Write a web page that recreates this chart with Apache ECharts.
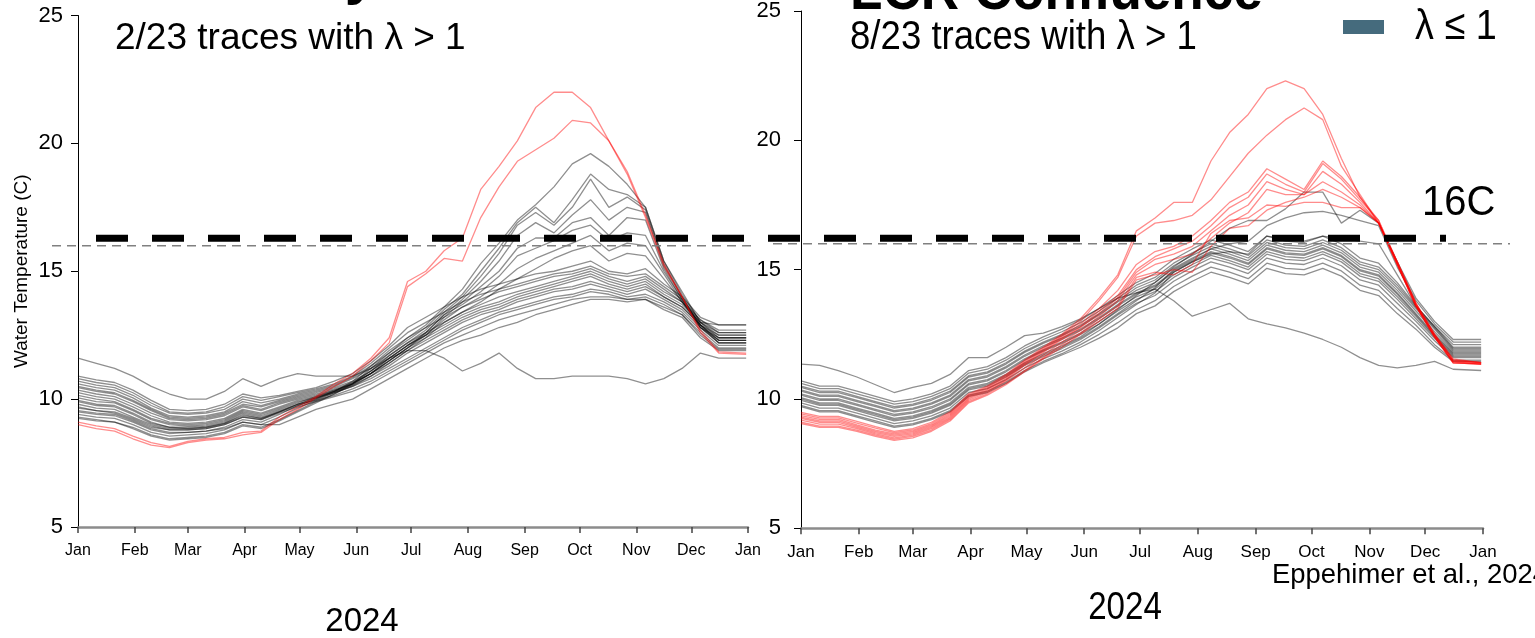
<!DOCTYPE html>
<html>
<head>
<meta charset="utf-8">
<script src="https://cdn.jsdelivr.net/npm/echarts@6/dist/echarts.min.js"></script>
<style>
  html, body { margin: 0; padding: 0; background: #ffffff; }
  #chart { width: 1535px; height: 638px; }
</style>
</head>
<body>
<div id="chart"></div>
<script>
// Day-of-year (2024) at which every temperature trace is sampled
const sampleDays = [0,10,20,30,40,50,60,70,80,90,100,110,120,130,140,150,160,170,180,190,
  200,210,220,230,240,250,260,270,280,290,300,310,320,330,340,350,365];

// Month boundaries (day of year) and their labels
const monthStarts = [0,31,60,91,121,152,182,213,244,274,305,335,366];
const monthLabels = ['Jan','Feb','Mar','Apr','May','Jun','Jul','Aug','Sep','Oct','Nov','Dec','Jan'];

// Temperature axis ticks (°C) and the 16 °C threshold
const tempTicks = [5, 10, 15, 20, 25];
const thresholdC = 16;

// Lees Ferry traces with λ ≤ 1 (gray)
const leesGray = [
  [9.5,9.4,9.35,9.1,8.8,8.65,8.7,8.75,8.9,9.2, 9.1,9.4,9.75,10.0,10.3,10.7,11.3,11.9,12.4,12.9, 13.6,14.3,15.3,16.1,17.0,17.6,18.3,19.2,19.6,19.1, 18.4,17.5,15.4,14.2,13.0,12.9,12.9],
  [9.4,9.3,9.25,9.0,8.7,8.55,8.6,8.65,8.8,9.1, 9.0,9.3,9.65,9.95,10.25,10.6,11.2,11.8,12.3,12.8, 13.5,14.1,15.0,15.9,16.9,17.5,16.9,17.8,18.8,18.2, 18.0,17.5,15.4,14.1,13.0,12.6,12.6],
  [9.65,9.55,9.45,9.2,8.9,8.8,8.8,8.85,9.0,9.3, 9.2,9.5,9.8,10.05,10.3,10.65,11.1,11.7,12.2,12.7, 13.4,14.0,14.8,15.7,16.8,17.3,16.8,17.5,18.6,17.5, 17.9,17.4,15.3,14.0,12.9,12.5,12.5],
  [9.3,9.2,9.1,8.9,8.6,8.45,8.5,8.55,8.7,9.0, 8.9,9.2,9.55,9.9,10.2,10.55,11.0,11.6,12.1,12.6, 13.3,13.9,14.6,15.4,16.4,16.9,16.5,17.2,17.8,17.0, 17.5,17.3,15.2,14.0,12.8,12.4,12.4],
  [9.8,9.65,9.6,9.3,9.0,8.85,8.85,8.9,9.05,9.35, 9.25,9.5,9.8,10.05,10.3,10.6,11.0,11.5,12.0,12.5, 13.2,13.8,14.4,15.0,15.9,16.3,16.3,16.9,17.1,16.4, 17.1,17.0,15.1,13.9,12.8,12.3,12.3],
  [10.05,9.9,9.85,9.55,9.2,9.0,8.95,9.0,9.15,9.5, 9.35,9.6,9.85,10.1,10.35,10.6,11.0,11.5,12.0,12.6, 13.3,13.7,14.2,14.8,15.6,15.9,16.2,16.6,16.8,16.2, 16.5,16.4,15.0,13.9,12.9,12.3,12.3],
  [9.25,9.15,9.1,8.85,8.55,8.4,8.45,8.5,8.65,8.95, 8.85,9.15,9.5,9.85,10.2,10.6,11.1,11.6,12.1,12.5, 13.1,13.6,14.0,14.5,15.1,15.5,15.8,16.1,16.4,15.8, 16.1,16.0,14.9,13.8,12.9,12.2,12.2],
  [9.9,9.75,9.7,9.4,9.05,8.9,8.85,8.9,9.05,9.4, 9.25,9.5,9.75,10.0,10.25,10.5,10.9,11.4,11.9,12.4, 13.0,13.4,13.8,14.3,14.7,15.1,15.5,15.8,16.0,15.4, 15.7,15.6,14.7,13.8,12.8,12.2,12.2],
  [10.9,10.75,10.65,10.35,9.95,9.6,9.55,9.6,9.8,10.2, 10.05,10.15,10.3,10.45,10.7,11.0,11.5,12.1,12.8,13.2, 13.6,14.0,14.3,14.5,14.7,14.9,15.0,15.2,15.4,15.0, 14.9,15.1,14.5,14.0,13.2,12.9,12.9],
  [10.8,10.65,10.55,10.25,9.85,9.5,9.45,9.5,9.7,10.1, 9.95,10.1,10.25,10.4,10.6,10.9,11.4,12.0,12.6,13.0, 13.4,13.8,14.1,14.3,14.5,14.7,14.9,15.0,15.2,14.9, 14.8,14.9,14.4,13.9,13.1,12.7,12.7],
  [10.7,10.55,10.45,10.15,9.75,9.45,9.4,9.45,9.6,10.0, 9.85,10.0,10.2,10.35,10.55,10.85,11.3,11.8,12.4,12.8, 13.2,13.6,13.9,14.2,14.4,14.6,14.8,14.9,15.1,14.8, 14.6,14.8,14.3,13.8,13.1,12.6,12.6],
  [10.6,10.45,10.35,10.05,9.65,9.35,9.3,9.35,9.5,9.9, 9.75,9.95,10.15,10.3,10.5,10.8,11.2,11.7,12.2,12.6, 13.0,13.4,13.7,14.0,14.2,14.4,14.6,14.8,15.0,14.7, 14.5,14.7,14.2,13.8,13.0,12.5,12.5],
  [10.5,10.35,10.25,9.95,9.6,9.3,9.25,9.3,9.45,9.8, 9.7,9.9,10.1,10.25,10.45,10.7,11.1,11.6,12.1,12.5, 12.9,13.3,13.6,13.8,14.1,14.3,14.5,14.7,14.9,14.6, 14.4,14.6,14.1,13.7,13.0,12.4,12.4],
  [10.45,10.3,10.2,9.9,9.55,9.25,9.2,9.25,9.4,9.75, 9.6,9.85,10.05,10.2,10.4,10.65,11.0,11.5,12.0,12.4, 12.8,13.2,13.5,13.7,14.0,14.2,14.4,14.6,14.8,14.5, 14.3,14.5,14.0,13.6,12.9,12.4,12.4],
  [10.35,10.2,10.1,9.8,9.45,9.2,9.15,9.2,9.35,9.7, 9.55,9.8,10.0,10.15,10.35,10.6,11.0,11.4,11.9,12.3, 12.7,13.1,13.4,13.6,13.9,14.1,14.3,14.4,14.6,14.4, 14.2,14.4,14.0,13.6,12.9,12.3,12.3],
  [10.25,10.1,10.0,9.7,9.35,9.1,9.05,9.1,9.25,9.6, 9.45,9.7,9.95,10.1,10.3,10.55,10.9,11.3,11.8,12.2, 12.6,13.0,13.3,13.5,13.8,14.0,14.2,14.3,14.5,14.3, 14.1,14.3,13.9,13.5,12.8,12.2,12.2],
  [10.15,10.0,9.9,9.6,9.25,9.05,9.0,9.05,9.2,9.55, 9.4,9.65,9.9,10.05,10.25,10.5,10.8,11.2,11.6,12.0, 12.4,12.8,13.1,13.4,13.6,13.8,14.0,14.1,14.3,14.2, 14.0,14.1,13.8,13.4,12.7,12.1,12.1],
  [9.95,9.8,9.75,9.45,9.1,8.9,8.9,8.95,9.1,9.45, 9.3,9.55,9.8,9.95,10.15,10.4,10.7,11.1,11.5,11.9, 12.3,12.7,13.0,13.3,13.5,13.7,13.9,14.0,14.2,14.1, 13.9,14.0,13.7,13.3,12.6,12.0,12.0],
  [9.7,9.55,9.5,9.25,8.95,8.8,8.8,8.85,9.0,9.3, 9.2,9.45,9.7,9.9,10.1,10.3,10.6,11.0,11.4,11.8, 12.2,12.5,12.8,13.1,13.3,13.5,13.7,13.9,14.0,14.0, 13.9,13.9,13.6,13.3,12.5,11.95,11.95],
  [9.55,9.45,9.4,9.15,8.85,8.7,8.7,8.75,8.85,9.1, 9.0,9.0,9.3,9.6,9.8,10.0,10.4,10.8,11.2,11.6, 12.0,12.3,12.5,12.8,13.0,13.3,13.5,13.7,13.9,13.9, 13.8,13.9,13.5,13.2,12.4,11.9,11.9],
  [11.6,11.4,11.2,10.9,10.5,10.2,10.0,10.0,10.3,10.8, 10.5,10.8,11.0,10.9,10.9,10.9,11.2,11.6,11.9,11.9, 11.6,11.1,11.4,11.8,11.2,10.8,10.8,10.9,10.9,10.9, 10.8,10.6,10.8,11.2,11.8,11.6,11.6]
];

// Lees Ferry traces with λ > 1 (red)
const leesRed = [
  [9.1,8.95,8.85,8.55,8.3,8.15,8.35,8.45,8.5,8.7, 8.75,9.3,9.7,10.1,10.6,11.0,11.6,12.4,14.6,15.0, 15.8,16.3,18.2,19.1,20.1,21.4,22.0,22.0,21.4,20.1, 18.9,17.2,15.3,14.0,12.7,11.85,11.8],
  [9.0,8.85,8.75,8.45,8.2,8.1,8.3,8.4,8.45,8.6, 8.7,9.2,9.6,10.05,10.5,10.9,11.5,12.2,14.4,14.9, 15.5,15.4,17.1,18.3,19.3,19.75,20.2,20.9,20.8,20.1, 18.8,17.1,15.2,14.0,12.6,11.8,11.75]
];

// LCR Confluence traces with λ ≤ 1 (gray)
const lcrGray = [
  [10.05,9.85,9.85,9.65,9.45,9.25,9.35,9.55,9.85,10.45, 10.6,10.95,11.4,11.75,12.05,12.4,12.9,13.45,14.0,14.5, 15.1,15.6,16.1,16.6,16.9,16.9,17.35,18.0,18.0,16.8, 17.3,16.8,15.3,13.9,13.0,12.3,12.3],
  [10.0,9.8,9.8,9.6,9.4,9.2,9.3,9.5,9.8,10.4, 10.55,10.9,11.35,11.7,12.0,12.35,12.8,13.3,13.8,14.3, 15.0,15.4,15.8,16.0,16.1,16.7,17.0,17.2,17.25,17.1, 16.9,16.7,15.1,13.8,12.9,12.2,12.2],
  [9.85,9.65,9.65,9.45,9.25,9.05,9.15,9.35,9.65,10.25, 10.4,10.75,11.2,11.55,11.85,12.2,12.65,13.15,13.65,14.1, 14.9,15.3,15.6,15.7,15.6,16.3,16.2,16.1,16.3,16.2, 16.1,16.0,14.8,13.6,12.8,12.1,12.1],
  [10.7,10.5,10.5,10.3,10.1,9.9,10.0,10.2,10.5,11.1, 11.25,11.6,12.05,12.4,12.7,13.05,13.5,14.0,14.5,14.85, 15.4,15.8,16.15,15.95,15.7,16.3,16.1,16.05,16.3,16.0, 15.45,15.25,14.5,13.6,12.8,12.0,12.0],
  [10.6,10.4,10.4,10.2,10.0,9.8,9.9,10.1,10.4,11.0, 11.15,11.5,11.95,12.3,12.6,12.95,13.4,13.9,14.4,14.7, 15.25,15.65,16.0,15.8,15.55,16.15,15.95,15.9,16.15,15.85, 15.3,15.1,14.4,13.55,12.75,11.95,11.95],
  [10.5,10.3,10.3,10.1,9.9,9.7,9.8,10.0,10.3,10.9, 11.05,11.4,11.85,12.2,12.5,12.85,13.3,13.8,14.3,14.6, 15.15,15.55,15.9,15.7,15.45,16.05,15.85,15.8,16.05,15.75, 15.2,15.0,14.3,13.5,12.7,11.9,11.9],
  [10.45,10.25,10.25,10.05,9.85,9.65,9.75,9.95,10.25,10.85, 11.0,11.35,11.8,12.15,12.45,12.8,13.25,13.75,14.2,14.5, 15.05,15.45,15.8,15.6,15.35,15.95,15.75,15.7,15.95,15.65, 15.1,14.9,14.2,13.4,12.6,11.85,11.85],
  [10.35,10.15,10.15,9.95,9.75,9.55,9.65,9.85,10.15,10.75, 10.9,11.25,11.7,12.05,12.35,12.7,13.15,13.65,14.1,14.4, 14.95,15.35,15.7,15.5,15.25,15.85,15.65,15.6,15.85,15.55, 15.0,14.8,14.1,13.3,12.5,11.8,11.8],
  [10.3,10.1,10.1,9.9,9.7,9.5,9.6,9.8,10.1,10.7, 10.85,11.2,11.65,12.0,12.3,12.65,13.1,13.6,14.05,14.35, 14.9,15.3,15.65,15.45,15.2,15.8,15.6,15.55,15.8,15.5, 14.95,14.75,14.05,13.25,12.45,11.75,11.75],
  [10.2,10.0,10.0,9.8,9.6,9.4,9.5,9.7,10.0,10.6, 10.75,11.1,11.55,11.9,12.2,12.55,13.0,13.5,13.95,14.25, 14.8,15.2,15.55,15.35,15.1,15.7,15.5,15.45,15.7,15.4, 14.85,14.65,13.95,13.2,12.4,11.7,11.7],
  [10.15,9.95,9.95,9.75,9.55,9.35,9.45,9.65,9.95,10.55, 10.7,11.05,11.5,11.85,12.15,12.5,12.9,13.4,13.85,14.15, 14.7,15.1,15.45,15.25,15.0,15.6,15.4,15.35,15.6,15.3, 14.75,14.55,13.85,13.1,12.35,11.65,11.65],
  [9.95,9.75,9.75,9.55,9.35,9.15,9.25,9.45,9.75,10.35, 10.5,10.85,11.3,11.65,11.95,12.3,12.75,13.25,13.7,14.0, 14.55,14.95,15.3,15.1,14.85,15.45,15.25,15.2,15.45,15.15, 14.6,14.4,13.7,13.0,12.25,11.6,11.6],
  [9.75,9.55,9.55,9.35,9.15,8.95,9.05,9.25,9.55,10.15, 10.3,10.65,11.1,11.45,11.75,12.1,12.5,12.95,13.45,13.8, 14.35,14.75,15.1,14.9,14.65,15.25,15.05,15.0,15.25,14.95, 14.4,14.2,13.5,12.85,12.1,11.5,11.5],
  [9.7,9.5,9.5,9.3,9.1,8.9,9.0,9.2,9.5,10.1, 10.25,10.6,11.05,11.4,11.7,12.0,12.35,12.75,13.3,13.6, 14.15,14.55,14.9,14.7,14.45,15.05,14.85,14.8,15.05,14.75, 14.2,14.0,13.3,12.7,12.0,11.45,11.45],
  [11.35,11.3,11.1,10.85,10.55,10.25,10.45,10.6,10.95,11.6, 11.6,12.0,12.45,12.55,12.8,13.1,13.5,13.9,14.1,14.25, 13.8,13.2,13.45,13.7,13.1,12.9,12.75,12.55,12.3,12.0, 11.6,11.3,11.2,11.3,11.45,11.15,11.1]
];

// LCR Confluence traces with λ > 1 (red)
const lcrRed = [
  [9.48,9.33,9.33,9.13,8.93,8.75,8.85,9.1,9.5,10.2, 10.5,10.95,11.5,12.0,12.5,13.1,13.9,14.8,16.5,17.0, 17.6,17.6,19.2,20.3,21.0,22.0,22.3,22.0,21.0,19.3, 17.8,16.8,15.3,13.7,12.5,11.55,11.4],
  [9.42,9.27,9.27,9.07,8.87,8.7,8.8,9.05,9.45,10.15, 10.45,10.9,11.45,11.95,12.45,13.0,13.8,14.7,16.3,16.8, 16.9,17.1,17.7,18.6,19.5,20.2,20.8,21.25,20.8,19.0, 17.9,16.8,15.3,13.7,12.5,11.5,11.4],
  [9.36,9.21,9.21,9.0,8.8,8.65,8.75,9.0,9.4,10.1, 10.4,10.85,11.4,11.9,12.4,12.9,13.5,14.2,15.2,15.7, 15.9,16.3,16.9,17.6,18.0,18.9,18.5,18.1,19.2,18.6, 17.8,16.9,15.3,13.7,12.5,11.5,11.4],
  [9.3,9.15,9.15,8.95,8.75,8.6,8.7,8.95,9.35,10.05, 10.35,10.8,11.35,11.85,12.35,12.8,13.4,14.0,15.0,15.5, 15.8,16.1,16.7,17.4,17.8,18.7,18.3,18.0,19.1,18.5, 17.7,16.9,15.25,13.65,12.45,11.45,11.4],
  [9.25,9.1,9.1,8.9,8.7,8.55,8.65,8.9,9.3,10.0, 10.3,10.75,11.3,11.8,12.3,12.75,13.3,13.9,14.9,15.4, 15.6,15.9,16.5,17.1,17.5,18.4,18.1,17.9,18.8,18.3, 17.6,16.8,15.2,13.6,12.4,11.45,11.35],
  [9.18,9.03,9.03,8.85,8.65,8.5,8.6,8.85,9.25,9.95, 10.25,10.7,11.2,11.7,12.2,12.65,13.2,13.8,14.8,15.2, 15.4,15.6,16.2,16.8,17.2,18.1,17.9,17.9,18.4,18.0, 17.5,16.8,15.2,13.6,12.4,11.4,11.35],
  [9.1,8.95,8.95,8.8,8.6,8.45,8.55,8.8,9.2,9.9, 10.2,10.6,11.1,11.6,12.1,12.55,13.1,13.6,14.7,14.9, 14.8,15.2,16.4,16.9,17.0,17.5,17.45,17.6,17.6,17.4, 17.4,16.8,15.2,13.6,12.4,11.4,11.35],
  [9.05,8.9,8.9,8.75,8.55,8.4,8.5,8.75,9.15,9.85, 10.15,10.55,11.05,11.55,12.0,12.5,13.0,13.5,14.6,14.8, 15.0,14.9,15.9,16.6,16.7,17.3,17.6,17.8,18.1,17.8, 17.4,16.8,15.2,13.6,12.4,11.4,11.35]
];

const SANS = "'Liberation Sans', Arial, sans-serif";
const GRAY_LINE = 'rgba(0,0,0,0.44)';
const RED_LINE = 'rgba(255,0,0,0.45)';

const chart = echarts.init(document.getElementById('chart'), null, { renderer: 'canvas' });

function traceSeries(values, panel, color, z) {
  return {
    type: 'line',
    xAxisIndex: panel,
    yAxisIndex: panel,
    data: sampleDays.map((d, i) => [d, values[i]]),
    showSymbol: false,
    symbol: 'none',
    lineStyle: { color: color, width: 1.3 },
    silent: true,
    z: z
  };
}

const series = [];
leesGray.forEach(t => series.push(traceSeries(t, 0, GRAY_LINE, 2)));
leesRed.forEach(t => series.push(traceSeries(t, 0, RED_LINE, 3)));
lcrGray.forEach(t => series.push(traceSeries(t, 1, GRAY_LINE, 2)));
lcrRed.forEach(t => series.push(traceSeries(t, 1, RED_LINE, 3)));

const option = {
  animation: false,
  backgroundColor: '#ffffff',
  grid: [
    { left: 78, top: 15.5, width: 670, height: 511.5 },
    { left: 801, top: 8.3, width: 682, height: 520 }
  ],
  xAxis: [0, 1].map(i => ({
    type: 'value',
    gridIndex: i,
    min: 0,
    max: 366,
    axisLine: { show: true, onZero: false, lineStyle: { color: '#8c8c8c', width: 2.5 } },
    axisTick: { show: true, customValues: monthStarts, length: 6, lineStyle: { color: '#444', width: 1.5 } },
    axisLabel: {
      show: true,
      customValues: monthStarts,
      formatter: v => monthLabels[monthStarts.indexOf(v)],
      color: '#000',
      fontSize: i ? 17 : 16,
      fontFamily: SANS,
      margin: 16
    },
    splitLine: { show: false }
  })),
  yAxis: [0, 1].map(i => ({
    type: 'value',
    gridIndex: i,
    min: tempTicks[0],
    max: tempTicks[tempTicks.length - 1],
    interval: tempTicks[1] - tempTicks[0],
    axisLine: { show: true, onZero: false, lineStyle: { color: '#000', width: 1 } },
    axisTick: { show: true, length: 7, lineStyle: { color: '#000', width: 1 } },
    axisLabel: { color: '#000', fontSize: 22, fontFamily: SANS, margin: i ? 20 : 15 },
    splitLine: { show: false },
    name: i ? '' : 'Water Temperature (C)',
    nameLocation: 'middle',
    nameGap: 47,
    nameTextStyle: { fontSize: 19, color: '#000', fontFamily: SANS }
  })),
  series: series
};

chart.setOption(option);

// Threshold lines sit on the 16 °C level of each panel's scale
const y16Left = chart.convertToPixel({ gridIndex: 0 }, [0, thresholdC])[1];
const y16Right = chart.convertToPixel({ gridIndex: 1 }, [0, thresholdC])[1];

function txt(text, x, y, size, opt) {
  opt = opt || {};
  const align = opt.align || 'left';
  return {
    type: 'text',
    x: x,
    y: y,
    scaleX: opt.sx || 1,
    z: 20,
    silent: true,
    style: {
      text: text,
      fill: '#000',
      fontSize: size,
      fontFamily: SANS,
      fontWeight: opt.weight || 'normal',
      align: align,
      verticalAlign: 'middle',
      textAlign: align,
      textVerticalAlign: 'middle'
    }
  };
}

chart.setOption({
  graphic: [
    { type: 'line', z: 5, silent: true, shape: { x1: 52, y1: y16Left, x2: 755, y2: y16Left },
      style: { stroke: '#808080', lineWidth: 1.6, lineDash: [9, 6] } },
    { type: 'line', z: 5, silent: true, shape: { x1: 773, y1: y16Right, x2: 1510, y2: y16Right },
      style: { stroke: '#808080', lineWidth: 1.6, lineDash: [9, 6] } },
    { type: 'line', z: 6, silent: true, shape: { x1: 96, y1: y16Right - 5.5, x2: 1446, y2: y16Right - 5.5 },
      style: { stroke: '#000', lineWidth: 7, lineDash: [32, 24] } },
    txt('Lees Ferry', 377, -23, 58, { align: 'right', weight: 'bold' }),
    txt('LCR Confluence', 850, -7, 58, { weight: 'bold', sx: 0.915 }),
    txt('2/23 traces with λ > 1', 115, 39, 37),
    txt('8/23 traces with λ > 1', 850, 38, 40, { sx: 0.915 }),
    { type: 'rect', z: 20, silent: true, shape: { x: 1343, y: 20, width: 41, height: 14 }, style: { fill: '#456b7d' } },
    txt('λ ≤ 1', 1415, 27, 42, { sx: 0.9 }),
    txt('16C', 1422, 203, 42, { sx: 0.95 }),
    txt('Eppehimer et al., 2024', 1272, 575, 28, { sx: 0.98 }),
    txt('2024', 362, 622, 33, { align: 'center' }),
    txt('2024', 1125, 608, 39, { align: 'center', sx: 0.85 })
  ]
});
</script>
</body>
</html>
